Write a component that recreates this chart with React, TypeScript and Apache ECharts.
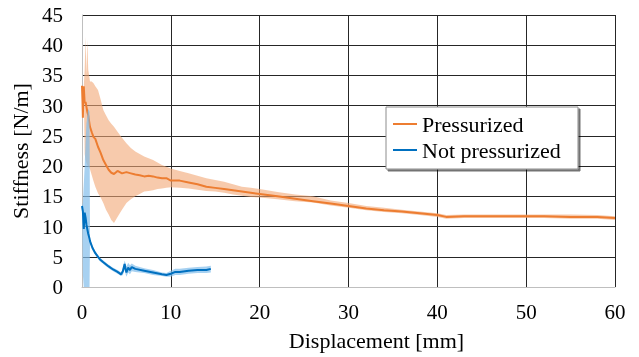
import React, { useEffect, useRef } from "react";
import * as echarts from "echarts";

// Pressurized: mean and band (low/high), displacement in mm, stiffness in N/m
const pressX = [0, 0.05, 0.1, 0.15, 0.2, 0.3, 0.4, 0.5, 0.6, 0.7, 0.9, 1.1, 1.3, 1.5, 1.8, 2.1, 2.4, 2.7, 3.0, 3.3, 3.6, 4.0, 4.5, 5.0, 5.5, 6.0, 6.5, 7.0, 7.5, 8.0, 8.5, 9.0, 9.5, 10, 11, 12, 13, 14, 15, 16, 17, 18, 19, 20, 22, 24, 26, 28, 30, 32, 34, 36, 38, 40, 41, 43, 45, 48, 50, 52, 55, 58, 60];
const pressMean = [33.3, 31.0, 28.0, 32.8, 33.2, 30.4, 30.6, 29.8, 29.0, 28.4, 26.5, 25.6, 24.8, 24.5, 23.2, 22.2, 21.0, 20.2, 19.4, 18.9, 18.7, 19.2, 18.8, 19.0, 18.8, 18.6, 18.5, 18.3, 18.4, 18.3, 18.1, 18.0, 18.0, 17.6, 17.6, 17.3, 17.0, 16.6, 16.4, 16.2, 16.0, 15.8, 15.6, 15.4, 15.0, 14.6, 14.2, 13.8, 13.4, 13.0, 12.7, 12.5, 12.2, 11.9, 11.6, 11.7, 11.7, 11.7, 11.7, 11.7, 11.6, 11.6, 11.4];
const pressLow = [33.3, 31.0, 28.0, 32.8, 33.2, 22.0, 21.0, 20.5, 20.2, 20.0, 19.5, 18.5, 17.5, 16.6, 15.5, 14.8, 13.9, 12.8, 12.0, 11.1, 10.6, 11.6, 12.8, 13.9, 14.5, 15.0, 15.4, 15.8, 15.9, 16.0, 16.2, 16.3, 16.4, 16.5, 16.4, 16.3, 16.1, 15.9, 15.8, 15.6, 15.3, 15.1, 14.9, 14.8, 14.5, 14.2, 14.0, 13.5, 13.1, 12.7, 12.4, 12.2, 11.9, 11.6, 11.3, 11.4, 11.4, 11.4, 11.4, 11.4, 11.3, 11.3, 11.1];
const pressHigh = [33.3, 31.0, 28.0, 32.8, 33.2, 36.0, 41.4, 35.0, 41.0, 36.0, 34.0, 34.0, 33.7, 33.2, 32.6, 31.0, 29.3, 28.4, 27.6, 27.0, 26.5, 25.7, 24.7, 23.8, 23.0, 22.4, 22.0, 21.6, 21.3, 21.0, 20.6, 20.2, 19.9, 19.6, 19.2, 18.8, 18.4, 18.0, 17.7, 17.4, 17.0, 16.6, 16.4, 16.2, 15.7, 15.3, 15.0, 14.3, 13.9, 13.4, 13.1, 12.8, 12.5, 12.2, 11.9, 12.0, 12.0, 12.0, 12.0, 12.0, 12.0, 11.9, 11.7];

// Not pressurized: mean and band
const notX = [0, 0.1, 0.2, 0.3, 0.4, 0.5, 0.7, 0.85, 0.9, 1.2, 1.5, 2.0, 2.4, 3.0, 3.5, 4.0, 4.4, 4.6, 4.8, 4.9, 5.0, 5.2, 5.4, 5.6, 6.0, 7.0, 8.0, 9.0, 9.5, 10.0, 10.5, 11, 12, 13, 14, 14.5];
const notMean = [13.4, 12.5, 9.6, 12.3, 11.5, 10.3, 8.8, 8.0, 7.6, 6.4, 5.6, 4.6, 4.1, 3.4, 2.9, 2.5, 2.1, 2.6, 3.8, 3.0, 2.4, 3.2, 2.8, 3.3, 3.0, 2.7, 2.4, 2.1, 2.0, 2.2, 2.5, 2.5, 2.7, 2.8, 2.8, 3.0];
const notLow = [13.4, 2.0, 0, 0, 0, 0, 0, 0, 7.3, 6.1, 5.3, 4.3, 3.8, 3.1, 2.6, 2.2, 1.8, 2.0, 2.9, 2.2, 1.7, 2.4, 2.1, 2.6, 2.5, 2.3, 2.0, 1.8, 1.7, 1.7, 2.0, 2.0, 2.2, 2.3, 2.3, 2.4];
const notHigh = [13.4, 14.0, 17.0, 20.0, 24.0, 27.0, 29.5, 29.0, 7.9, 6.7, 5.9, 4.9, 4.4, 3.7, 3.2, 2.8, 2.4, 3.2, 4.4, 3.9, 3.4, 4.0, 3.6, 3.9, 3.5, 3.1, 2.8, 2.4, 2.3, 2.7, 3.0, 3.0, 3.2, 3.3, 3.4, 3.5];

const xTicks = { min: 0, max: 60, interval: 10 };
const yTicks = { min: 0, max: 45, interval: 5 };

const FONT = "'Liberation Serif', 'Times New Roman', serif";
const ORANGE = "#ED7D31";
const ORANGE_BAND = "rgba(241,166,117,0.6)";
const BLUE = "#0070C0";
const BLUE_BAND = "rgba(130,190,235,0.7)";

function pairs(xs: number[], ys: number[]) {
  return xs.map((x, i) => [x, ys[i]]);
}

function bandSeries(name: string, xs: number[], low: number[], high: number[], color: string, z: number) {
  return {
    name,
    type: "custom",
    data: [[xs[0], low[0]]],
    silent: true,
    z,
    renderItem: (_params: any, api: any) => {
      const upper = xs.map((x, i) => api.coord([x, high[i]]));
      const lower = xs.map((x, i) => api.coord([x, low[i]])).reverse();
      return {
        type: "polygon",
        shape: { points: upper.concat(lower) },
        style: { fill: color },
      };
    },
  };
}

export default function App() {
  const ref = useRef<HTMLDivElement>(null);
  useEffect(() => {
    if (!ref.current) return;
    const chart = echarts.init(ref.current, undefined, { renderer: "svg" });
    chart.setOption({
      animation: false,
      grid: { left: 82, right: 24, top: 15, bottom: 70 },
      xAxis: {
        type: "value",
        ...xTicks,
        name: "Displacement [mm]",
        nameLocation: "middle",
        nameGap: 42,
        nameTextStyle: { fontFamily: FONT, fontSize: 22, color: "#000", padding: [0, 0, 0, 56] },
        axisLine: { show: true, lineStyle: { color: "#bfbfbf", width: 1 } },
        axisTick: { show: false },
        axisLabel: { fontFamily: FONT, fontSize: 21, color: "#000", margin: 14 },
        splitLine: { show: true, showMinLine: false, lineStyle: { color: "#262626", width: 1 } },
      },
      yAxis: {
        type: "value",
        ...yTicks,
        name: "Stiffness [N/m]",
        nameLocation: "middle",
        nameGap: 45,
        nameTextStyle: { fontFamily: FONT, fontSize: 22, color: "#000" },
        axisLine: { show: true, lineStyle: { color: "#bfbfbf", width: 1 } },
        axisTick: { show: false },
        axisLabel: { fontFamily: FONT, fontSize: 21, color: "#000", margin: 19 },
        splitLine: { show: true, showMinLine: false, lineStyle: { color: "#262626", width: 1 } },
      },
      legend: {
        data: ["Pressurized", "Not pressurized"],
        orient: "vertical",
        left: 393,
        top: 113,
        padding: 0,
        itemGap: 4,
        itemWidth: 24,
        itemHeight: 2,
        icon: "rect",
        z: 10,
        textStyle: { fontFamily: FONT, fontSize: 22, color: "#000", lineHeight: 22 },
      },
      graphic: [
        {
          type: "rect",
          z: 5,
          shape: { x: 386, y: 107, width: 192, height: 62 },
          style: {
            fill: "#fff",
            stroke: "#8c8c8c",
            lineWidth: 1,
            shadowColor: "rgba(0,0,0,0.55)",
            shadowOffsetX: 2,
            shadowOffsetY: 2,
            shadowBlur: 1,
          },
        },
      ],
      series: [
        bandSeries("pBand", pressX, pressLow, pressHigh, ORANGE_BAND, 2),
        {
          name: "Pressurized",
          type: "line",
          data: pairs(pressX, pressMean),
          symbol: "none",
          lineStyle: { color: ORANGE, width: 2 },
          itemStyle: { color: ORANGE },
          z: 3,
        },
        bandSeries("nBand", notX, notLow, notHigh, BLUE_BAND, 4),
        {
          name: "Not pressurized",
          type: "line",
          data: pairs(notX, notMean),
          symbol: "none",
          lineStyle: { color: BLUE, width: 2 },
          itemStyle: { color: BLUE },
          z: 4,
        },
      ],
    });
    return () => chart.dispose();
  }, []);
  return <div ref={ref} style={{ position: "fixed", left: 0, top: 0, width: 639, height: 357 }} />;
}
